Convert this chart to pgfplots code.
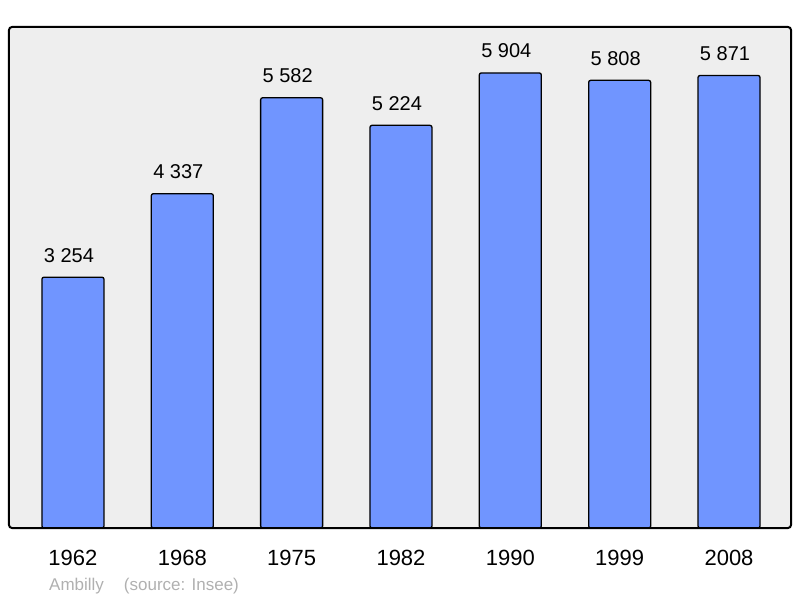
\documentclass[border=0pt]{standalone}
\usepackage{pgfplots}
\pgfplotsset{compat=1.18}
\usepackage{fontspec}
\setmainfont{Liberation Sans}
\definecolor{barblue}{HTML}{7095FF}
\definecolor{bggray}{HTML}{EEEEEE}
\definecolor{srcgray}{HTML}{B0B0B0}
\begin{document}
\begin{tikzpicture}[x=1pt,y=1pt]
\useasboundingbox (0,0) rectangle (800,598);
\begin{axis}[
  at={(9pt,70pt)}, anchor=south west,
  scale only axis, width=782pt, height=501pt,
  xmin=-0.585, xmax=6.567, ymin=0, ymax=6500,
  axis line style={draw=none},
  axis background/.style={fill=bggray},
  ytick=\empty,
  xtick=data,
  xticklabels={1962,1968,1975,1982,1990,1999,2008},
  major tick length=0pt,
  xticklabel style={font=\fontsize{22}{26}\selectfont, yshift=-19pt},
  ybar, bar width=62pt,
  nodes near coords,
  every node near coord/.append style={font=\fontsize{20}{24}\selectfont, yshift=11pt, xshift=-4pt, /pgf/number format/1000 sep={\ }, /pgf/number format/assume math mode=true},
  /pgf/number format/assume math mode=true,
  clip=false,
  after end axis/.code={
    \draw[line width=2pt, rounded corners=3pt] (rel axis cs:0,0) rectangle (rel axis cs:1,1);
  },
]
\addplot[fill=barblue, draw=black, line width=1.3pt, rounded corners=2pt] coordinates {
(0,3254) (1,4337) (2,5582) (3,5224) (4,5904) (5,5808) (6,5871)};
\end{axis}
\node[anchor=base west, text=srcgray, font=\fontsize{17}{20}\selectfont, inner sep=0pt] at (49,8) {Ambilly\hspace{20pt}(source: Insee)};
\end{tikzpicture}
\end{document}
